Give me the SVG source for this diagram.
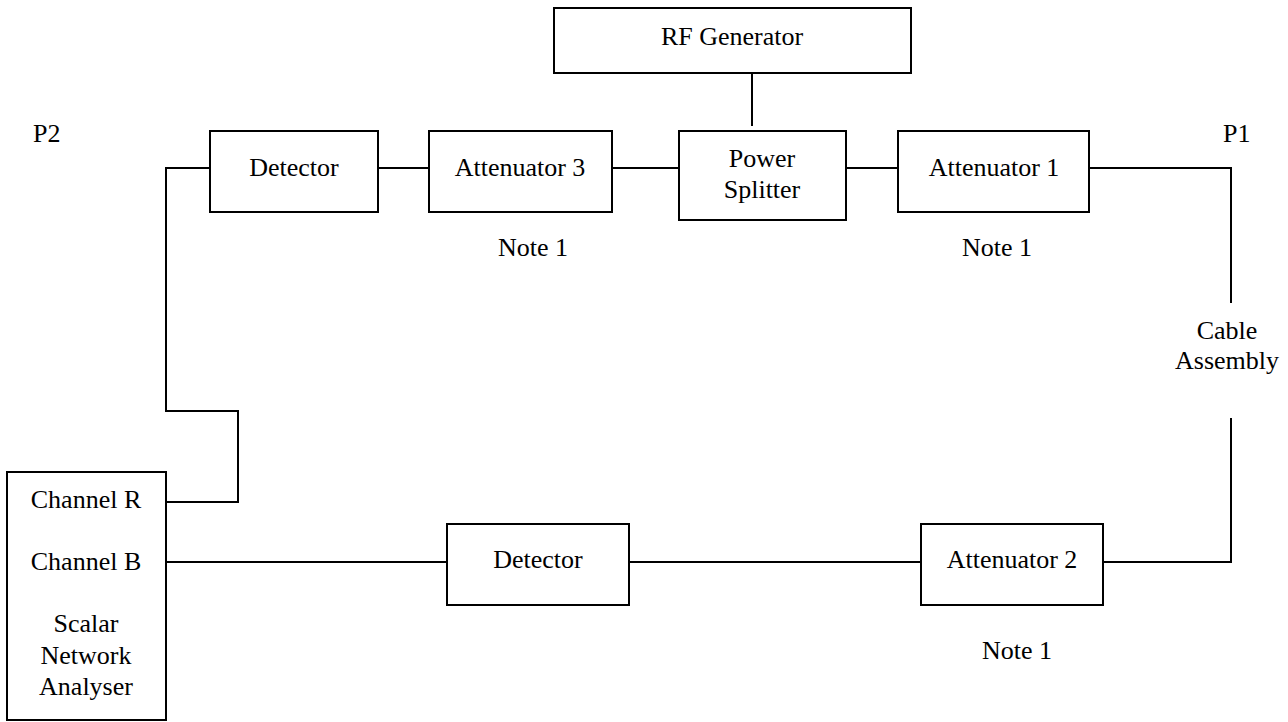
<svg xmlns="http://www.w3.org/2000/svg" width="1288" height="722" viewBox="0 0 1288 722">
  <style>
    .box { fill: #ffffff; stroke: #000000; stroke-width: 2; }
    .wire { fill: none; stroke: #000000; stroke-width: 2; }
    text { font-family: "Liberation Serif", "Times New Roman", serif; font-size: 26px; fill: #000000; }
    .c { text-anchor: middle; }
  </style>
  <rect x="0" y="0" width="1288" height="722" fill="#ffffff"/>
  <g id="connectors">
    <line class="wire" x1="752" y1="71" x2="752" y2="126"/>
    <line class="wire" x1="378" y1="168" x2="429" y2="168"/>
    <line class="wire" x1="612" y1="168" x2="679" y2="168"/>
    <line class="wire" x1="846" y1="168" x2="898" y2="168"/>
    <polyline class="wire" points="1089,168 1231,168 1231,303"/>
    <polyline class="wire" points="1231,418 1231,562 1103,562"/>
    <line class="wire" x1="629" y1="562" x2="921" y2="562"/>
    <line class="wire" x1="166" y1="562" x2="447" y2="562"/>
    <polyline class="wire" points="210,168 166,168 166,411 238,411 238,502 166,502"/>
  </g>
  <g id="rf-generator">
    <rect class="box" x="554" y="8" width="357" height="65"/>
    <text class="c" x="732" y="45">RF Generator</text>
  </g>
  <g id="power-splitter">
    <rect class="box" x="679" y="131" width="167" height="89"/>
    <text class="c" x="762" y="167">Power</text>
    <text class="c" x="762" y="198">Splitter</text>
  </g>
  <g id="detector-top">
    <rect class="box" x="210" y="131" width="168" height="81"/>
    <text class="c" x="294" y="176">Detector</text>
  </g>
  <g id="attenuator-3">
    <rect class="box" x="429" y="131" width="183" height="81"/>
    <text class="c" x="520" y="176">Attenuator 3</text>
    <text x="498" y="256">Note 1</text>
  </g>
  <g id="attenuator-1">
    <rect class="box" x="898" y="131" width="191" height="81"/>
    <text class="c" x="994" y="176">Attenuator 1</text>
    <text x="962" y="256">Note 1</text>
  </g>
  <g id="p-labels">
    <text x="33" y="142">P2</text>
    <text x="1223" y="142">P1</text>
  </g>
  <g id="cable-assembly">
    <text class="c" x="1227" y="339">Cable</text>
    <text class="c" x="1227" y="369">Assembly</text>
  </g>
  <g id="attenuator-2">
    <rect class="box" x="921" y="524" width="182" height="81"/>
    <text class="c" x="1012" y="568">Attenuator 2</text>
    <text x="982" y="659">Note 1</text>
  </g>
  <g id="detector-bottom">
    <rect class="box" x="447" y="524" width="182" height="81"/>
    <text class="c" x="538" y="568">Detector</text>
  </g>
  <g id="scalar-network-analyser">
    <rect class="box" x="7" y="472" width="159" height="248"/>
    <text class="c" x="86" y="508">Channel R</text>
    <text class="c" x="86" y="570">Channel B</text>
    <text class="c" x="86" y="632">Scalar</text>
    <text class="c" x="86" y="664">Network</text>
    <text class="c" x="86" y="695">Analyser</text>
  </g>
</svg>
